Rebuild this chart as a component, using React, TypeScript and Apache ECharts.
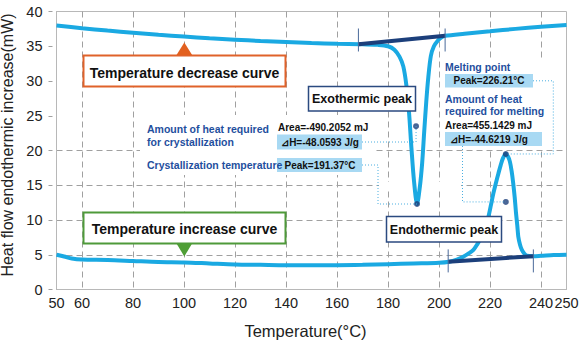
import React, { useEffect, useRef } from 'react';
import * as echarts from 'echarts';

// Temperature decrease (cooling) curve
const coolingTemp = [50, 60, 70, 80, 90, 100, 110, 120, 130, 140, 150, 160, 170, 176, 180, 182.5, 184.5, 186, 187.2, 188.2, 189.2, 190.2, 191.4, 192.5, 193.4, 194.2, 195, 195.8, 196.8, 198, 199.5, 201, 202.4, 210, 220, 230, 240, 250];
const coolingFlow = [38.0, 37.6, 37.25, 36.95, 36.65, 36.4, 36.15, 35.95, 35.75, 35.6, 35.45, 35.35, 35.3, 35.2, 35.0, 34.5, 33.5, 32.1, 29.4, 25.7, 20.3, 15.6, 12.3, 14.8, 18.2, 22.7, 27.0, 30.5, 33.6, 35.0, 35.8, 36.3, 36.5, 36.8, 37.15, 37.5, 37.8, 38.05];

// Temperature increase (heating) curve
const heatingTemp = [50, 53, 56, 60, 70, 80, 90, 100, 110, 120, 130, 140, 150, 160, 170, 180, 190, 200, 204, 207, 209.5, 211.5, 213.5, 215, 216.7, 218, 219.4, 220.4, 221.3, 222.3, 223.3, 224.2, 225.1, 226.2, 227.1, 227.8, 228.5, 229.1, 229.7, 230.2, 230.7, 231.1, 231.8, 232.5, 233.5, 234.5, 237, 240, 245, 250];
const heatingFlow = [5.0, 4.75, 4.45, 4.3, 4.25, 4.1, 3.95, 3.9, 3.75, 3.6, 3.55, 3.5, 3.5, 3.5, 3.55, 3.65, 3.75, 3.85, 4.0, 4.3, 4.7, 5.15, 5.7, 6.5, 7.6, 8.9, 10.5, 12.2, 13.8, 15.3, 16.7, 17.9, 18.9, 19.5, 19.1, 18.4, 17.0, 15.3, 13.2, 11.0, 9.2, 7.6, 6.4, 5.7, 5.15, 4.85, 4.8, 4.85, 4.95, 5.0];

// Baselines of the peaks
const exoBaseTemp = [168.4, 202.4];
const exoBaseFlow = [35.3, 36.5];
const endoBaseTemp = [203.6, 237];
const endoBaseFlow = [4.0, 4.8];

// Markers: exo peak, exo area centre, endo peak, endo area centre
const markerTemp = [191.37, 191.0, 226.21, 226.21];
const markerFlow = [12.3, 23.5, 19.5, 12.6];

const xLabelValues = [50, 60, 80, 100, 120, 140, 160, 180, 200, 220, 240, 250];
const xGridValues = [60, 80, 100, 120, 140, 160, 180, 200, 220, 240];

const FF = '"Liberation Sans", Arial, Helvetica, sans-serif';
const CURVE = '#1aa9e2';
const NAVY = '#1c3f7b';
const BLUE_TXT = '#1f4f9e';
const BOX_FILL = '#a8d9f3';
const DOT_LINE = '#4aaee0';
const GRID_C = '#a0a0a0';

const zip = (a: number[], b: number[]) => a.map((v, i) => [v, b[i]]);

export default function App() {
  const ref = useRef<HTMLDivElement>(null);
  useEffect(() => {
    document.body.style.margin = '0';
    const chart = echarts.init(ref.current!, null, { renderer: 'svg' });
    const hidden = 'rgba(0,0,0,0)';
    chart.setOption({
      animation: false,
      grid: { left: 56.5, right: 14.5, top: 11.5, bottom: 56.5, outerBoundsMode: 'none', containLabel: false, show: true, borderColor: '#b8b8b8', borderWidth: 1, backgroundColor: 'transparent' },
      xAxis: {
        type: 'value', min: 50, max: 250,
        name: 'Temperature(°C)', nameLocation: 'middle', nameGap: 33,
        nameTextStyle: { fontSize: 16.5, color: '#222', fontFamily: FF, padding: [0, 12, 0, 0] },
        axisLine: { lineStyle: { color: '#b8b8b8', width: 1 } },
        axisTick: { show: false, customValues: xGridValues },
        axisLabel: { customValues: xLabelValues, fontSize: 14.5, color: '#222', fontFamily: FF, margin: 6 },
        splitLine: { show: true, lineStyle: { color: GRID_C, type: [6, 4], width: 1 } },
      },
      yAxis: {
        type: 'value', min: 0, max: 40, interval: 5,
        name: 'Heat flow endothermic increase(mW)', nameLocation: 'middle', nameGap: 37.5,
        nameTextStyle: { fontSize: 16, color: '#222', fontFamily: FF, padding: [0, 0, 0, 11] },
        axisLine: { show: true, lineStyle: { color: '#b8b8b8', width: 1 } },
        axisTick: { show: true, length: 8, lineStyle: { color: GRID_C, type: [4, 4], dashOffset: 4 } },
        axisLabel: { fontSize: 14.5, color: '#222', fontFamily: FF, margin: 14 },
        splitLine: { show: true, lineStyle: { color: [hidden, GRID_C, GRID_C, GRID_C, GRID_C, hidden, hidden, hidden, hidden], type: [6, 4], width: 1 } },
      },
      series: [
        { type: 'line', name: 'cooling', data: zip(coolingTemp, coolingFlow), smooth: 0.3, symbol: 'none', lineStyle: { color: CURVE, width: 4 }, z: 2 },
        { type: 'line', name: 'heating', data: zip(heatingTemp, heatingFlow), smooth: 0.3, symbol: 'none', lineStyle: { color: CURVE, width: 4 }, z: 2 },
        { type: 'line', name: 'exoBase', data: zip(exoBaseTemp, exoBaseFlow), symbol: 'none', lineStyle: { color: NAVY, width: 4 }, z: 3 },
        { type: 'line', name: 'endoBase', data: zip(endoBaseTemp, endoBaseFlow), symbol: 'none', lineStyle: { color: NAVY, width: 4 }, z: 3 },
        { type: 'scatter', name: 'markers', data: zip(markerTemp, markerFlow), symbolSize: 6, itemStyle: { color: NAVY }, z: 4 },
      ],
    });

    const px = (t: number, f: number) => chart.convertToPixel({ gridIndex: 0 }, [t, f]) as number[];
    const exoMin = px(markerTemp[0], markerFlow[0]);
    const exoMid = px(markerTemp[1], markerFlow[1]);
    const endoPeak = px(markerTemp[2], markerFlow[2]);
    const endoMid = px(markerTemp[3], markerFlow[3]);
    const eb0 = px(exoBaseTemp[0], exoBaseFlow[0]);
    const eb1 = px(exoBaseTemp[1], exoBaseFlow[1]);
    const nb0 = px(endoBaseTemp[0], endoBaseFlow[0]);
    const nb1 = px(endoBaseTemp[1], endoBaseFlow[1]);
    const exoTickMid = (eb0[1] + eb1[1]) / 2;
    const endoTickMid = (nb0[1] + nb1[1]) / 2 + 2;

    const txt = (x: number, y: number, text: string, opts: any = {}) => ({
      type: 'text', x, y, z: 20,
      style: {
        text, fill: opts.fill || '#111',
        font: `${opts.weight || 'bold'} ${opts.size || 10}px ${FF}`,
        align: opts.align || 'left', verticalAlign: 'middle',
      },
    });
    const rect = (x: number, y: number, w: number, h: number, style: any, z = 15) => ({
      type: 'rect', z, shape: { x, y, width: w, height: h }, style,
    });
    const dotted = (points: number[][]) => ({
      type: 'polyline', z: 18, shape: { points },
      style: { stroke: DOT_LINE, lineWidth: 1, lineDash: [1, 2], fill: null },
    });
    const vtick = (x: number, yc: number) => ({
      type: 'line', z: 5, shape: { x1: x, y1: yc - 11.5, x2: x, y2: yc + 11.5 },
      style: { stroke: '#4a6a9a', lineWidth: 1 },
    });

    const white = { fill: '#ffffff' };
    const elements: any[] = [
      rect(140, 115, 236, 60, white, 1),
      rect(443, 58, 117, 91, white, 1),
      rect(379, 182, 82, 8, white, 1),

      vtick(eb0[0], exoTickMid), vtick(eb1[0], exoTickMid),
      vtick(nb0[0], endoTickMid), vtick(nb1[0], endoTickMid),

      rect(83.5, 55.5, 202, 31, { fill: '#fff', stroke: '#e0622a', lineWidth: 2 }),
      { type: 'polygon', z: 16, shape: { points: [[184.3, 42.5], [176.5, 55], [192.1, 55]] }, style: { fill: '#e2601f' } },
      txt(184.5, 72.5, 'Temperature decrease curve', { size: 14, align: 'center' }),

      rect(83.5, 212.5, 202, 31, { fill: '#fff', stroke: '#4f9a3a', lineWidth: 2 }),
      { type: 'polygon', z: 16, shape: { points: [[176.5, 243.5], [192.1, 243.5], [184.3, 256.5]] }, style: { fill: '#4f9e36' } },
      txt(184.5, 229, 'Temperature increase curve', { size: 14, align: 'center' }),

      rect(308.5, 86.5, 107, 24.5, { fill: '#fff', stroke: '#2b4a80', lineWidth: 1.5 }),
      txt(362, 99, 'Exothermic peak', { size: 12.5, align: 'center' }),
      rect(386.5, 216.5, 115, 25.5, { fill: '#fff', stroke: '#2b4a80', lineWidth: 1.5 }),
      txt(444, 229.5, 'Endothermic peak', { size: 12.5, align: 'center' }),

      txt(147, 129.3, 'Amount of heat required', { fill: BLUE_TXT, size: 10.5 }),
      txt(147, 141.7, 'for crystallization', { fill: BLUE_TXT, size: 10.5 }),
      txt(147, 164.5, 'Crystallization temperature', { fill: BLUE_TXT, size: 10.5 }),
      txt(278, 127.3, 'Area=-490.2052 mJ', { size: 10 }),
      rect(277, 134.5, 85, 15, { fill: BOX_FILL }),
      txt(320, 142, '⊿H=-48.0593 J/g', { size: 10, align: 'center' }),
      rect(277, 158, 85, 14, { fill: BOX_FILL }),
      txt(320, 165, 'Peak=191.37°C', { size: 10, align: 'center' }),

      txt(445, 66.7, 'Melting point', { fill: BLUE_TXT, size: 10.5 }),
      rect(445, 74, 88, 13.5, { fill: BOX_FILL }),
      txt(489, 80.8, 'Peak=226.21°C', { size: 10, align: 'center' }),
      txt(445, 99.3, 'Amount of heat', { fill: BLUE_TXT, size: 10.5 }),
      txt(445, 111, 'required for melting', { fill: BLUE_TXT, size: 10.5 }),
      txt(445, 125, 'Area=455.1429 mJ', { size: 10 }),
      rect(445, 132, 97, 14, { fill: BOX_FILL }),
      txt(450, 139, '⊿H=-44.6219 J/g', { size: 10 }),

      dotted([[362, 142], [exoMid[0], 142], [exoMid[0], exoMid[1]]]),
      dotted([[362, 165], [378, 165], [378, exoMin[1]], [exoMin[0], exoMin[1]]]),
      dotted([[533, 80.8], [553.3, 80.8], [553.3, endoPeak[1]], [endoPeak[0], endoPeak[1]]]),
      dotted([[462.5, 146], [462.5, endoMid[1]], [endoMid[0], endoMid[1]]]),
    ];
    chart.setOption({ graphic: elements });
    return () => chart.dispose();
  }, []);
  return <div ref={ref} style={{ width: 581, height: 346 }} />;
}
